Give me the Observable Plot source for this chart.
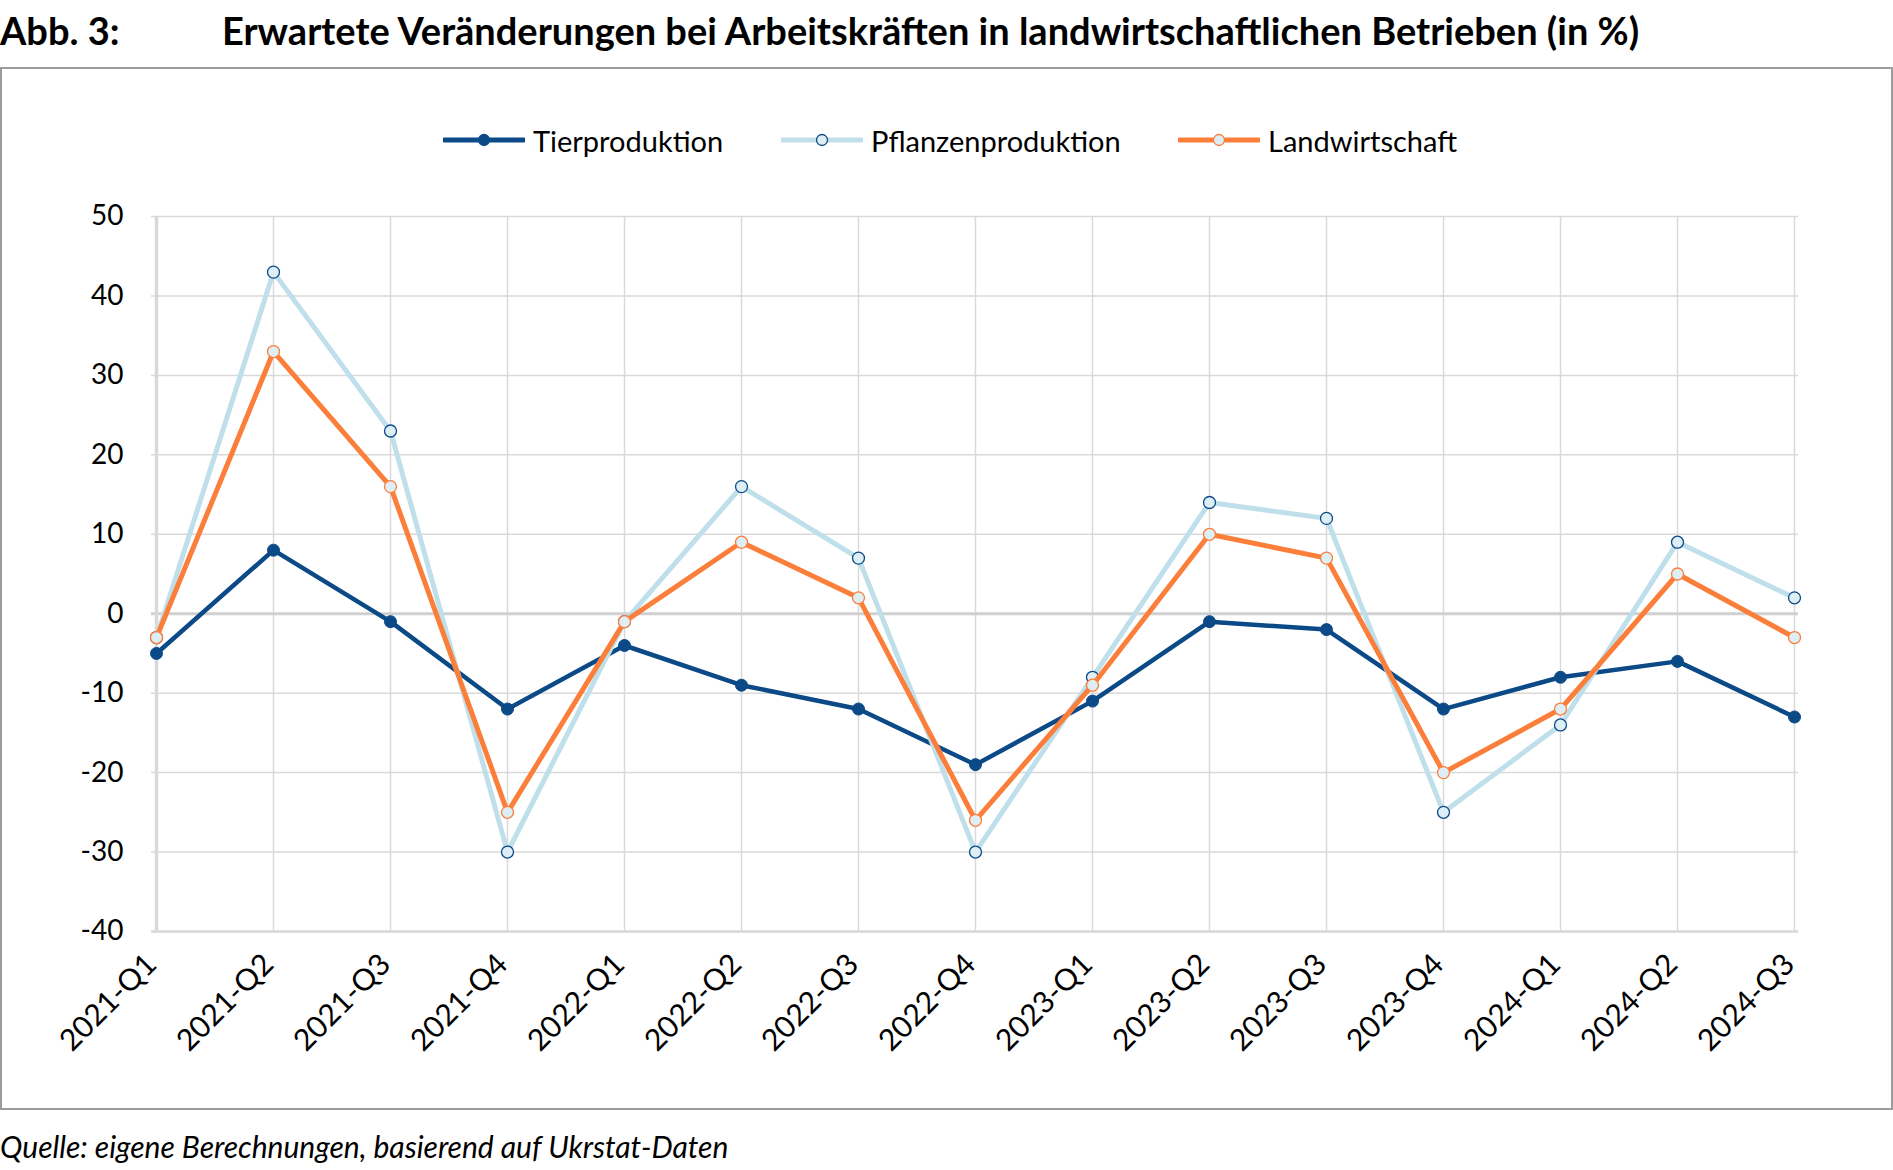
<!DOCTYPE html>
<html>
<head>
<meta charset="utf-8">
<script src="https://cdn.jsdelivr.net/npm/d3@7"></script>
<script src="https://cdn.jsdelivr.net/npm/@observablehq/plot@0.6"></script>
<style>
  html, body { margin: 0; padding: 0; background: #fff; }
  body { width: 1893px; height: 1170px; position: relative; overflow: hidden; font-family: Lato, "Open Sans", sans-serif; }
  .title { position: absolute; top: 7px; left: 0; width: 1893px; height: 50px; font-weight: 700; font-size: 38px; color: #000; white-space: nowrap; }
  .title span { position: absolute; top: 0; }
  .title .num { left: 0; }
  .title .txt { left: 222px; }
  .frame { position: absolute; left: 0px; top: 67px; width: 1889px; height: 1039px; border: 2px solid #9c9c9c; z-index: 3; pointer-events: none; }
  #chart { position: absolute; left: 0; top: 0; z-index: 1; }
  .legend { position: absolute; top: 120px; left: 0; height: 40px; width: 1893px; z-index: 2; font-size: 29px; color: #000; }
  .legend .item { position: absolute; top: 0; display: flex; align-items: center; height: 40px; }
  .legend svg { display: block; }
  .caption { position: absolute; top: 1128px; left: 0; font-style: italic; font-size: 30px; color: #000; white-space: nowrap; }
</style>
</head>
<body>
<div class="title"><span class="num">Abb. 3:</span><span class="txt">Erwartete Veränderungen bei Arbeitskräften in landwirtschaftlichen Betrieben (in %)</span></div>
<div class="frame"></div>
<div class="legend" id="legend"></div>
<div id="chart"></div>
<div class="caption">Quelle: eigene Berechnungen, basierend auf Ukrstat-Daten</div>
<script>
const quarters = ["2021-Q1","2021-Q2","2021-Q3","2021-Q4","2022-Q1","2022-Q2","2022-Q3","2022-Q4","2023-Q1","2023-Q2","2023-Q3","2023-Q4","2024-Q1","2024-Q2","2024-Q3"];
const tierproduktion = [-5, 8, -1, -12, -4, -9, -12, -19, -11, -1, -2, -12, -8, -6, -13];
const pflanzenproduktion = [-3, 43, 23, -30, -1, 16, 7, -30, -8, 14, 12, -25, -14, 9, 2];
const landwirtschaft = [-3, 33, 16, -25, -1, 9, 2, -26, -9, 10, 7, -20, -12, 5, -3];
const yTicks = [-40, -30, -20, -10, 0, 10, 20, 30, 40, 50];
const seriesNames = ["Tierproduktion", "Pflanzenproduktion", "Landwirtschaft"];

const darkBlue = "#0b4a87";
const lightBlue = "#bfe0eb";
const orange = "#fb7f3b";
const markerFill = "#deeef5";
const grid = "#d9d9d9";

const toRows = vals => quarters.map((q, i) => ({q, v: vals[i]}));
const tierRows = toRows(tierproduktion);
const pflRows = toRows(pflanzenproduktion);
const lwRows = toRows(landwirtschaft);

const chart = Plot.plot({
  width: 1893,
  height: 1170,
  marginLeft: 151,
  marginRight: 95,
  marginTop: 216,
  marginBottom: 239,
  style: {fontFamily: "Lato, sans-serif", fontSize: "28px", color: "#000", background: "transparent"},
  x: {type: "point", domain: quarters, padding: 0},
  y: {domain: [-40, 50]},
  marks: [
    Plot.gridY(yTicks, {stroke: grid, strokeOpacity: 1, strokeWidth: 1.5}),
    Plot.gridX(quarters, {stroke: grid, strokeOpacity: 1, strokeWidth: 1.5}),
    Plot.ruleY([0], {stroke: "#d0d0d0", strokeWidth: 3}),
    Plot.ruleY([-40], {stroke: grid, strokeWidth: 2.5}),
    Plot.ruleX([quarters[0]], {stroke: grid, strokeWidth: 3.5}),
    Plot.axisY(yTicks, {tickSize: 0, tickPadding: 28, fontSize: 28, label: null, tickFormat: d => String(d)}),
    Plot.axisX(quarters, {tickSize: 0, tickPadding: 16, tickRotate: -45, fontSize: 30, label: null, dx: -5, dy: 12}),
    Plot.line(tierRows, {x: "q", y: "v", stroke: darkBlue, strokeWidth: 4.5}),
    Plot.dot(tierRows, {x: "q", y: "v", r: 6, fill: darkBlue, stroke: darkBlue, strokeWidth: 1}),
    Plot.line(pflRows, {x: "q", y: "v", stroke: lightBlue, strokeWidth: 5}),
    Plot.dot(pflRows, {x: "q", y: "v", r: 6, fill: markerFill, stroke: darkBlue, strokeWidth: 1.3}),
    Plot.line(lwRows, {x: "q", y: "v", stroke: orange, strokeWidth: 5}),
    Plot.dot(lwRows, {x: "q", y: "v", r: 6, fill: markerFill, stroke: orange, strokeWidth: 1.3})
  ]
});
document.getElementById("chart").appendChild(chart);

// Legend
const legendItems = [
  {name: seriesNames[0], line: darkBlue, fill: darkBlue, stroke: darkBlue, left: 443},
  {name: seriesNames[1], line: lightBlue, fill: markerFill, stroke: darkBlue, left: 781},
  {name: seriesNames[2], line: orange, fill: markerFill, stroke: orange, left: 1178}
];
const legend = d3.select("#legend");
for (const it of legendItems) {
  const item = legend.append("div").attr("class", "item").style("left", it.left + "px");
  const svg = item.append("svg").attr("width", 82).attr("height", 40);
  svg.append("line").attr("x1", 1).attr("x2", 81).attr("y1", 20).attr("y2", 20)
    .attr("stroke", it.line).attr("stroke-width", 5).attr("stroke-linecap", "round");
  svg.append("circle").attr("cx", 41).attr("cy", 20).attr("r", 5.5)
    .attr("fill", it.fill).attr("stroke", it.stroke).attr("stroke-width", 1.3);
  item.append("span").style("margin-left", "8px").text(it.name);
}
</script>
</body>
</html>
